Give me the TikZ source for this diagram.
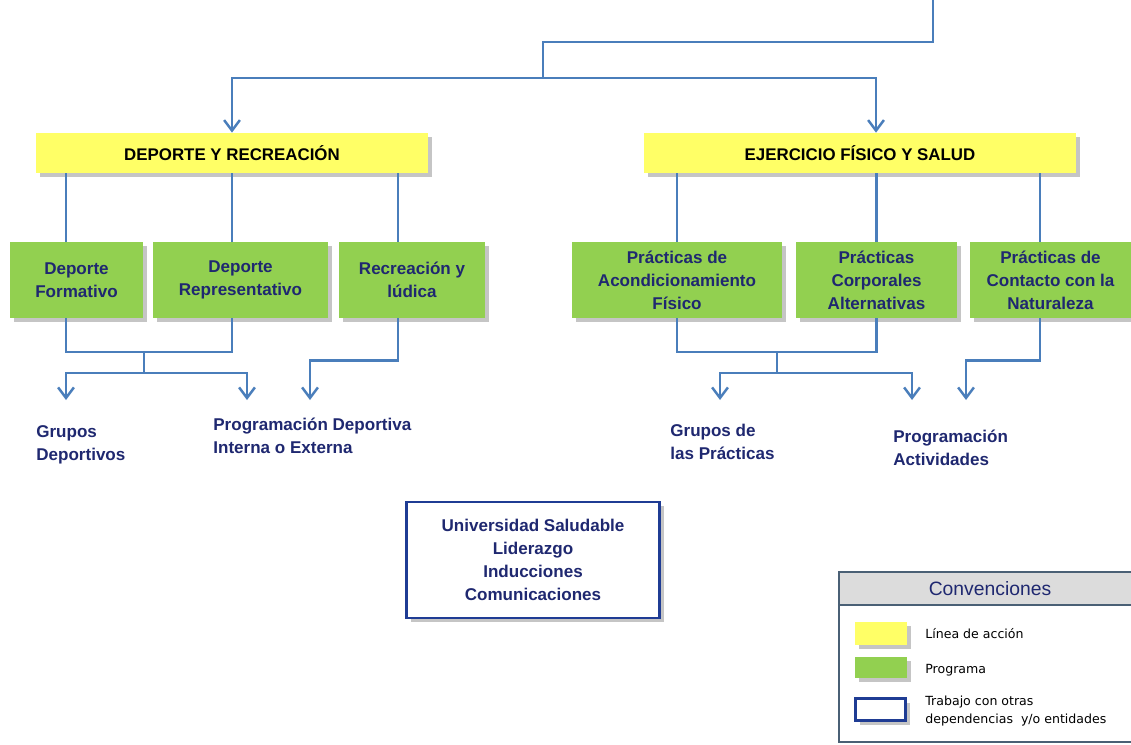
\documentclass[tikz,border=0pt]{standalone}
\usepackage{fontspec}
\setmainfont{Liberation Sans}
\newfontfamily\leyendafont{DejaVu Sans}
\usetikzlibrary{arrows.meta,shadows}

\definecolor{azullinea}{HTML}{4A7EBB}
\definecolor{amarillo}{HTML}{FFFF66}
\definecolor{verde}{HTML}{92D050}
\definecolor{azultexto}{HTML}{1F2870}
\definecolor{azulborde}{HTML}{1F3C94}
\definecolor{grismarco}{HTML}{4A6075}
\definecolor{grisclaro}{HTML}{DCDCDC}

\tikzset{
 conector/.style={draw=azullinea, line width=1.4pt},
 flecha/.style={conector, -{Straight Barb[length=6pt,width=9pt,line width=1.4pt]}},
 sombra/.style={drop shadow={shadow xshift=2.5pt, shadow yshift=-2.5pt, fill=black!45, opacity=.5}},
 accion/.style={fill=amarillo, sombra, text=black, minimum height=0.8cm,
   font=\bfseries\fontsize{9.6}{12}\selectfont},
 programa/.style={fill=verde, sombra, text=azultexto, align=center, minimum height=1.52cm,
   font=\bfseries\fontsize{9.7}{13}\selectfont},
 etiqueta/.style={text=azultexto, align=left, inner sep=0pt,
   font=\bfseries\fontsize{9.7}{13}\selectfont},
 trabajo/.style={draw=azulborde, line width=1.6pt, fill=white, sombra, text=azultexto, align=center,
   font=\bfseries\fontsize{9.7}{13}\selectfont},
 muestra/.style={minimum width=1.04cm, minimum height=0.46cm, inner sep=0pt, sombra},
 leyenda/.style={anchor=west, align=left, inner sep=0pt, font=\leyendafont\fontsize{7.15}{10.2}\selectfont}
}

\begin{document}
\begin{tikzpicture}[x=0.02cm,y=-0.02cm]
\useasboundingbox (0,0) rectangle (1131,744);

% lineas de accion
\node[accion, minimum width=7.84cm] (dyr) at (232,153) {DEPORTE Y RECREACIÓN};
\node[accion, minimum width=8.64cm] (efs) at (860,153) {EJERCICIO FÍSICO Y SALUD};

% programas
\node[programa, minimum width=2.66cm] (dfor) at (76.5,280) {Deporte\\Formativo};
\node[programa, minimum width=3.5cm] (drep) at (240.5,280) {Deporte\\Representativo};
\node[programa, minimum width=2.92cm] (recr) at (412,280) {Recreación y\\lúdica};
\node[programa, minimum width=4.2cm] (acon) at (677,280) {Prácticas de\\Acondicionamiento\\Físico};
\node[programa, minimum width=3.22cm] (corp) at (876.5,280) {Prácticas\\Corporales\\Alternativas};
\node[programa, minimum width=3.22cm] (cont) at (1050.5,280) {Prácticas de\\Contacto con la\\Naturaleza};

% entrada desde arriba
\coordinate (entrada) at (933,0);
\coordinate (codo) at (543,42);
\coordinate (reparto) at (543,78);
\draw[conector] (entrada) |- (codo) -- (reparto);
\draw[flecha] (reparto) -| (dyr.north);
\draw[flecha] (reparto) -| ([xshift=0.32cm]efs.north);

% de las lineas a los programas
\draw[conector] ([xshift=-0.21cm]dfor.north) -- ([xshift=-0.21cm]dfor.north |- dyr.south);
\draw[conector] ([xshift=-0.17cm]drep.north) -- ([xshift=-0.17cm]drep.north |- dyr.south);
\draw[conector] ([xshift=-0.28cm]recr.north) -- ([xshift=-0.28cm]recr.north |- dyr.south);
\draw[conector] (acon.north) -- (acon.north |- efs.south);
\draw[conector] (corp.north) -- (corp.north |- efs.south);
\draw[conector] ([xshift=-0.21cm]cont.north) -- ([xshift=-0.21cm]cont.north |- efs.south);

% resultados
\node[etiqueta, anchor=north west] (gdep) at (36,425) {Grupos\\Deportivos};
\node[etiqueta, anchor=north west] (pdep) at (213,418) {Programación Deportiva\\Interna o Externa};
\node[etiqueta, anchor=north west] (gpra) at (670,424) {Grupos de\\las Prácticas};
\node[etiqueta, anchor=north west] (pact) at (893,430) {Programación\\Actividades};

\coordinate (jdep) at (144,352);
\coordinate (bdep) at (144,373);
\coordinate (fgdep) at (66,400);
\coordinate (fpdep) at (247,400);
\coordinate (frec) at (310,400);
\draw[conector] ([xshift=-0.21cm]dfor.south) |- (jdep) -| ([xshift=-0.17cm]drep.south);
\draw[conector] (jdep) -- (bdep);
\draw[flecha] (bdep) -| (fgdep);
\draw[flecha] (bdep) -| (fpdep);
\draw[flecha] ([xshift=-0.28cm]recr.south) -- ++(0,42) -| (frec);

\coordinate (jpra) at (777,352);
\coordinate (bpra) at (777,373);
\coordinate (fgpra) at (720,400);
\coordinate (fpact) at (912,400);
\coordinate (fnat) at (966,400);
\draw[conector] (acon.south) |- (jpra) -| (corp.south);
\draw[conector] (jpra) -- (bpra);
\draw[flecha] (bpra) -| (fgpra);
\draw[flecha] (bpra) -| (fpact);
\draw[flecha] ([xshift=-0.21cm]cont.south) -- ++(0,42) -| (fnat);

% trabajo con otras dependencias
\node[trabajo, minimum width=5.06cm, minimum height=2.32cm] (usal) at (533,560)
  {Universidad Saludable\\Liderazgo\\Inducciones\\Comunicaciones};

% convenciones
\draw[grismarco, line width=1.4pt] (839,572) rectangle (1145,742);
\draw[grismarco, line width=1.4pt, fill=grisclaro] (839,572) rectangle (1145,605);
\node[text=azultexto, font=\fontsize{11}{13}\selectfont] (conv) at (990,589) {Convenciones};
\node[muestra, fill=amarillo] (mamar) at (881,633.5) {};
\node[muestra, fill=verde, minimum height=0.42cm] (mverde) at (881,667.5) {};
\node[muestra, draw=azulborde, line width=1.8pt, fill=white, minimum width=1.0cm, minimum height=0.44cm] (mazul) at (880.5,709.5) {};
\node[leyenda] (lamar) at (925,634) {Línea de acción};
\node[leyenda] (lverde) at (925,670) {Programa};
\node[leyenda] (lazul) at (925,711) {Trabajo con otras\\dependencias\ \ y/o entidades};

\end{tikzpicture}
\end{document}
